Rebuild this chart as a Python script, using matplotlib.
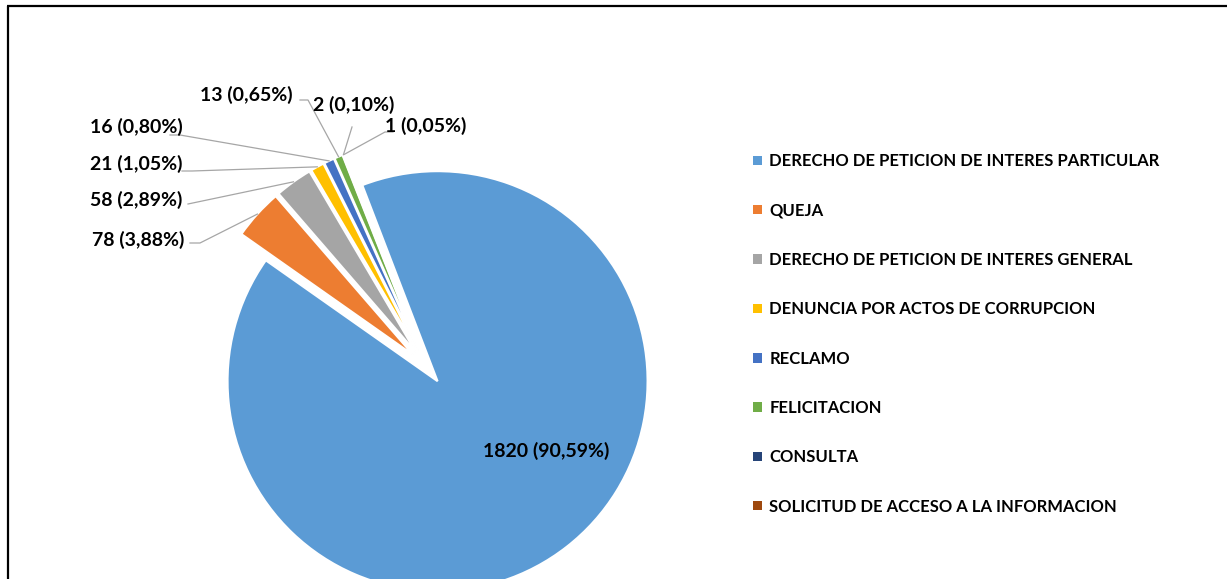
import numpy as np
import matplotlib
matplotlib.use("Agg")
import matplotlib.pyplot as plt

categories = [
    "DERECHO DE PETICION DE INTERES PARTICULAR",
    "QUEJA",
    "DERECHO DE PETICION DE INTERES GENERAL",
    "DENUNCIA POR ACTOS DE CORRUPCION",
    "RECLAMO",
    "FELICITACION",
    "CONSULTA",
    "SOLICITUD DE ACCESO A LA INFORMACION",
]
counts = [1820, 78, 58, 21, 16, 13, 2, 1]
colors = ["#5B9BD5", "#ED7D31", "#A5A5A5", "#FFC000",
          "#4472C4", "#70AD47", "#264478", "#9E480E"]

W, H = 1227, 579

# label layout in pixels (x from left, y from top)
label_pos = [(483, 451), (92, 240), (90, 200), (90, 164),
             (90, 127), (200, 95), (313, 105), (385, 126)]
leader_start = [None, (190, 243), (188, 204), (182, 171),
                (170, 135), (300, 100), (352, 127), (393, 132)]
leader_bend = [None, (200, 243), (188, 204), (192, 171),
               (180, 135), (308, 100), (352, 127), (385, 132)]

plt.rcParams['font.family'] = ['Lato', 'DejaVu Sans']

fig = plt.figure(figsize=(W / 100, H / 100), dpi=100)
ax = fig.add_axes([0, 0, 1, 1])

total = sum(counts)
wedges, _ = ax.pie(counts, colors=colors, startangle=111, counterclock=False,
                   center=(426.5, H - 367), radius=210, explode=[18] * len(counts),
                   wedgeprops=dict(edgecolor="white", linewidth=1.5))

ax.set_xlim(0, W)
ax.set_ylim(0, H)
ax.set_aspect("equal")
ax.axis("off")

for i, (w, v) in enumerate(zip(wedges, counts)):
    txt = f"{v} ({100 * v / total:.2f}%)".replace(".", ",")
    x, y = label_pos[i]
    ax.text(x, H - y, txt, ha="left", va="center", fontsize=14,
            fontweight="bold", color="black")
    if leader_start[i] is None:
        continue
    # end of leader on the outer edge of the wedge
    ang = np.deg2rad((w.theta1 + w.theta2) / 2)
    ex = w.center[0] + w.r * np.cos(ang)
    ey = w.center[1] + w.r * np.sin(ang)
    sx, sy = leader_start[i]
    bx, by = leader_bend[i]
    ax.plot([sx, bx, ex], [H - sy, H - by, ey], color="#A6A6A6", lw=0.9)

leg = ax.legend(wedges, categories, loc="upper left",
                bbox_to_anchor=(745, H - 145), bbox_transform=ax.transData,
                frameon=False, borderpad=0, handlelength=0.5, handleheight=0.5,
                handletextpad=0.45, labelspacing=2.0,
                prop=dict(family="Lato", weight="bold", size=12))
for h in leg.legend_handles:
    h.set_edgecolor("none")

# chart border (cut at right and bottom)
ax.plot([8, 8], [0, H - 5.5], color="black", lw=1.6, solid_capstyle="butt")
ax.plot([7.2, W], [H - 5.5, H - 5.5], color="black", lw=1.6, solid_capstyle="butt")

fig.savefig("out.png", dpi=100)
